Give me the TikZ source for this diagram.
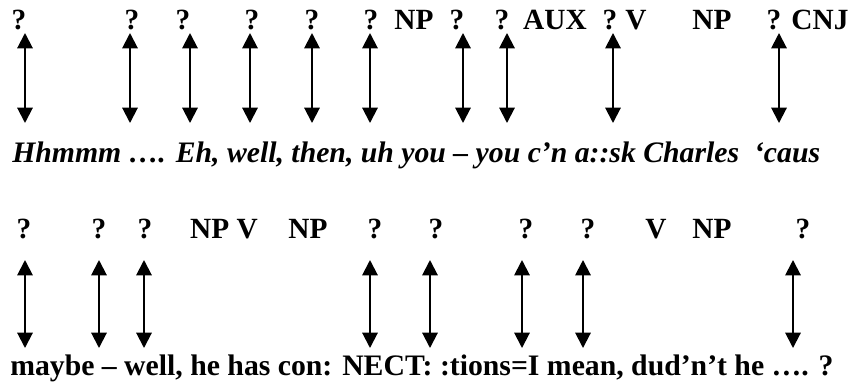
\documentclass[tikz,border=0pt]{standalone}
\usepackage{fontspec}
\setmainfont{Liberation Serif}
\usetikzlibrary{arrows.meta}
\begin{document}
\begin{tikzpicture}[x=0.75pt,y=-0.75pt,
  lab/.style={inner sep=0pt,anchor=base,font=\fontsize{22}{26}\selectfont\bfseries},
  txt/.style={inner sep=0pt,anchor=base west,font=\fontsize{22.3}{26}\selectfont\bfseries},
  dbl/.style={line width=1.5pt,{Triangle[width=11.5pt,length=11.5pt]}-{Triangle[width=11.5pt,length=11.5pt]}}]
\useasboundingbox (0,0) rectangle (855,383);
% top labels
\node[lab] (l1) at (19,29) {?};
\node[lab] (l2) at (132,29) {?};
\node[lab] (l3) at (183,29) {?};
\node[lab] (l4) at (252,29) {?};
\node[lab] (l5) at (312,29) {?};
\node[lab] (l6) at (371,29) {?};
\node[lab] (l7) at (414,29) {NP};
\node[lab] (l8) at (457,29) {?};
\node[lab] (l9) at (502,29) {?};
\node[lab] (l10) at (555,29) {AUX};
\node[lab] (l11) at (610,29) {?};
\node[lab] (l12) at (636,29) {V};
\node[lab] (l13) at (712,29) {NP};
\node[lab] (l14) at (774,29) {?};
\node[lab] (l15) at (820,29) {CNJ};
% top arrows
\foreach \i/\x in {1/25,2/130,3/190,4/250,5/312,6/370,7/463,8/507,9/613,10/779}{
  \coordinate (ta\i) at (\x,33);
  \coordinate (tb\i) at (\x,123);
  \draw[dbl] (ta\i) -- (tb\i);
}
% line 1
\node[txt,font=\fontsize{22.3}{26}\selectfont\bfseries\itshape] (line1) at (12,162)
  {Hhmmm …. Eh, well, then, uh you – you c’n a::sk Charles\ \ ‘caus};
% bottom labels
\node[lab] (m1) at (24,238) {?};
\node[lab] (m2) at (99,238) {?};
\node[lab] (m3) at (145,238) {?};
\node[lab] (m4) at (224,238) {NP V};
\node[lab] (m5) at (308,238) {NP};
\node[lab] (m6) at (375,238) {?};
\node[lab] (m7) at (436,238) {?};
\node[lab] (m8) at (526,238) {?};
\node[lab] (m9) at (588,238) {?};
\node[lab] (m10) at (656,238) {V};
\node[lab] (m11) at (712,238) {NP};
\node[lab] (m12) at (803,238) {?};
% bottom arrows
\foreach \i/\x in {1/25,2/99,3/144,4/370,5/430,6/522,7/583,8/793}{
  \coordinate (ba\i) at (\x,260);
  \coordinate (bb\i) at (\x,348);
  \draw[dbl] (ba\i) -- (bb\i);
}
% line 2
\node[txt] (line2) at (10,375)
  {maybe – well, he has con: NECT: :tions=I mean, dud’n’t he …. ?};
\end{tikzpicture}
\end{document}
